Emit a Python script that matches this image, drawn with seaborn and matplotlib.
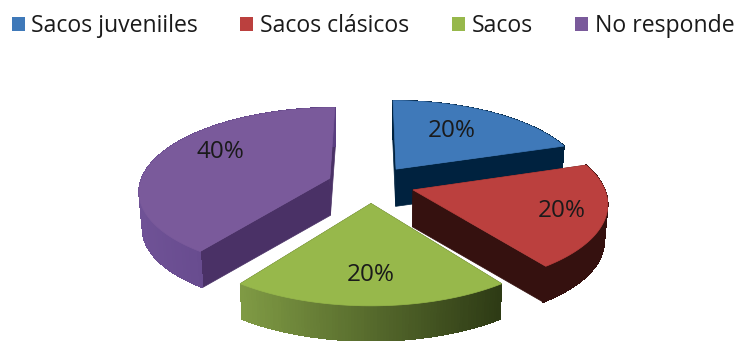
import numpy as np
import matplotlib
matplotlib.use("Agg")
import matplotlib.pyplot as plt
from matplotlib.collections import PolyCollection
from matplotlib.patches import Patch, Polygon
import seaborn as sns

# Survey shares, in percent
categories = ["Sacos juveniiles", "Sacos clásicos", "Sacos", "No responde"]
shares = [20, 20, 20, 40]

# Colours of each slice: top face, cut faces, rim at its left and right ends
top_colors = ["#3f79b9", "#bb403e", "#97b84b", "#7a5a9b"]
cut_colors = ["#00223f", "#35110f", "#35420f", "#4a3166"]
rim_left = ["#00223f", "#35110f", "#7f9a44", "#6f5296"]
rim_right = ["#00223f", "#35110f", "#2e3b15", "#5a3f80"]

# Label placement per slice: fraction of the radius and direction in degrees
label_radius = [0.624, 0.78, 0.735, 0.707]
label_turn = [32, 108, 180, 299]

# Projection of the tilted pie onto the canvas, in pixels
CENTER_X, CENTER_Y = 371, 184
RADIUS_X, RADIUS_Y = 190, 82
PERSPECTIVE = 0.14
EXPLODE = 0.23
DEPTH = 37
DEPTH_SHRINK = 0.985

sns.set_theme(style="white")
plt.rcParams["font.family"] = ["Open Sans", "DejaVu Sans"]

fig = plt.figure(figsize=(7.36, 3.41), dpi=100)
ax = fig.add_axes([0, 0, 1, 1])
ax.set_xlim(0, 736)
ax.set_ylim(341, 0)
ax.axis("off")


def project(theta, radius, middle, lower=False):
    """Map a polar point of an exploded slice to canvas pixels."""
    px = EXPLODE * np.sin(middle) + radius * np.sin(theta)
    py = EXPLODE * np.cos(middle) + radius * np.cos(theta)
    scale = 1 / (1 + PERSPECTIVE * py)
    x = RADIUS_X * px * scale
    y = -RADIUS_Y * py * scale
    if lower:
        x, y = x * DEPTH_SHRINK, y * DEPTH_SHRINK + DEPTH
    return np.column_stack([CENTER_X + x, CENTER_Y + y])


def draw_slice(index, start, stop, order):
    middle = (start + stop) / 2
    arc = np.linspace(start, stop, 90)
    rim_top = project(arc, 1.0, middle)
    rim_low = project(arc, 1.0, middle, lower=True)
    apex_top = project(np.array([middle]), 0.0, middle)
    apex_low = project(np.array([middle]), 0.0, middle, lower=True)

    # Cut faces between the apex and both ends of the arc
    for end in (0, -1):
        face = np.vstack([apex_top, rim_top[end], rim_low[end], apex_low])
        ax.add_patch(Polygon(face, closed=True, fc=cut_colors[index],
                             ec=cut_colors[index], lw=0.5, zorder=order))

    # Outer rim: a smooth base shape, then hard-edged bands shaded left to right
    shades = sns.blend_palette([rim_left[index], rim_right[index]], 100)
    ax.add_patch(Polygon(np.vstack([rim_top, rim_low[::-1]]), closed=True,
                         fc=shades[50], ec="none", zorder=order + 0.05))
    span = rim_top[:, 0].min(), rim_top[:, 0].max()
    quads, colors = [], []
    for i in range(len(arc) - 1):
        quads.append([rim_top[i], rim_top[i + 1], rim_low[i + 1], rim_low[i]])
        level = (rim_top[i, 0] - span[0]) / (span[1] - span[0])
        colors.append(shades[min(int(level * 100), 99)])
    ax.add_collection(PolyCollection(quads, facecolors=colors, edgecolors=colors,
                                     linewidths=0.4, antialiaseds=False,
                                     zorder=order + 0.1))

    # Top face
    ax.add_patch(Polygon(np.vstack([apex_top, rim_top]), closed=True,
                         fc=top_colors[index], ec=top_colors[index], lw=0.5,
                         zorder=order + 0.2))


edges = np.deg2rad(np.cumsum([0] + shares) * 3.6)
draw_order = [3, 0, 1, 2]
for rank, idx in enumerate(draw_order):
    draw_slice(idx, edges[idx], edges[idx + 1], rank + 1)

for idx, share in enumerate(shares):
    middle = (edges[idx] + edges[idx + 1]) / 2
    anchor = project(np.array([np.deg2rad(label_turn[idx])]), label_radius[idx], middle)[0]
    ax.text(anchor[0], anchor[1], f"{share}%", ha="center", va="center",
            fontsize=17.5, color="#1a1a1a", zorder=10)

handles = [Patch(fc=c, ec="none") for c in top_colors]
ax.legend(handles, categories, ncol=4, loc="center left",
          bbox_to_anchor=(0.0, 1 - 26 / 341), bbox_transform=ax.transAxes,
          frameon=False, fontsize=16.6, labelcolor="#1a1a1a",
          handlelength=0.565, handleheight=0.565, handletextpad=0.30,
          columnspacing=1.83, borderaxespad=0, borderpad=0.5)

fig.savefig("out.png", dpi=100, facecolor="white")
